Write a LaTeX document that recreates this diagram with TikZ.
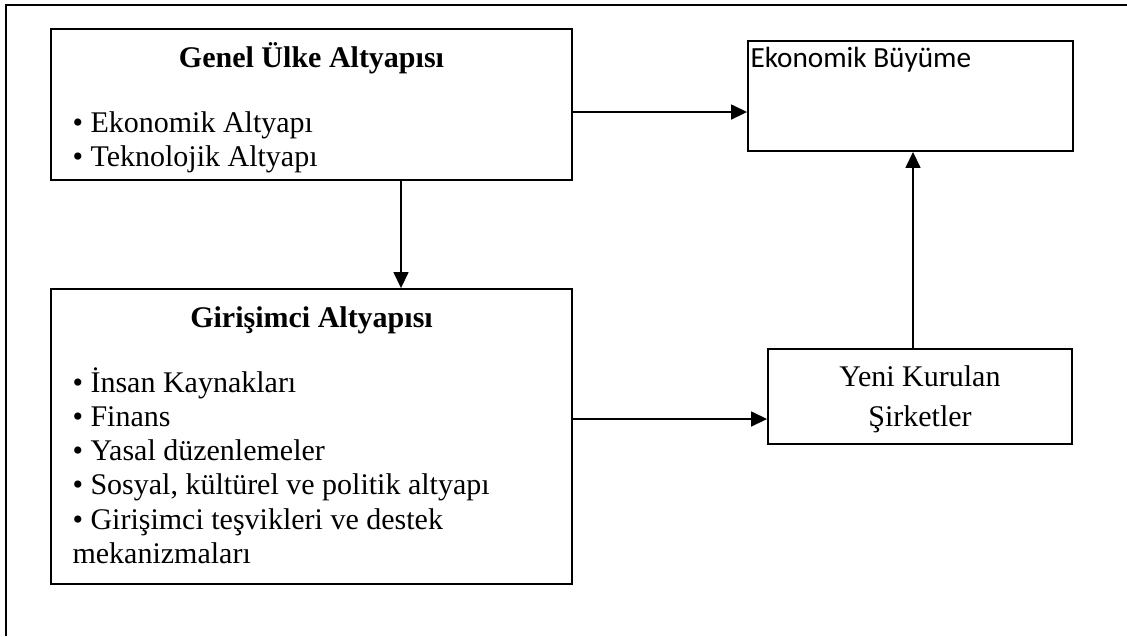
\documentclass[tikz,border=0pt]{standalone}
\usepackage{fontspec}
\setmainfont{Liberation Serif}
\newfontfamily\calibrifont{Carlito}
\usetikzlibrary{arrows.meta,positioning}

\begin{document}
\begin{tikzpicture}[x=0.4pt,y=-0.4pt,font=\fontsize{12}{14}\selectfont,
  box/.style={draw,line width=0.75pt,inner sep=0pt},
  flow/.style={-{Triangle[length=6.4pt,width=6pt]},line width=0.6pt},
  head/.style={anchor=base,inner sep=0pt,font=\fontsize{12}{14}\selectfont\bfseries},
  item/.style={anchor=base west,inner sep=0pt}]
  \useasboundingbox (0,0) rectangle (1127,636);
  \draw[line width=0.75pt] (1127,5) -- (6,5) -- (6,636);

  % boxes
  \node[box,minimum width=208.4pt,minimum height=60.4pt] (genel) at (311.5,104.5) {};
  \node[box,minimum width=208.4pt,minimum height=118pt] (gir) at (311.5,436.5) {};
  \node[box,minimum width=130pt,minimum height=44pt] (eko) at (910.5,96) {};
  \node[box,minimum width=121.6pt,minimum height=38pt] (yeni) at (920,396.5) {};

  % texts
  \node[head] (genelT) at ([yshift=-15.6pt]genel.north) {Genel Ülke Altyapısı};
  \node[head] (girT) at ([yshift=-15.6pt]gir.north) {Girişimci Altyapısı};
  \foreach \txt [count=\i from 0] in {• Ekonomik Altyapı,• Teknolojik Altyapı}
    \node[item] (genel-\i) at ([xshift=8.8pt,yshift={-41.6pt-\i*13.7pt}]genel.north west) {\txt};
  \foreach \txt [count=\i from 0] in {• İnsan Kaynakları,• Finans,• Yasal düzenlemeler,
    {• Sosyal, kültürel ve politik altyapı},• Girişimci teşvikleri ve destek,mekanizmaları}
    \node[item] (gir-\i) at ([xshift=8.8pt,yshift={-41.6pt-\i*13.7pt}]gir.north west) {\txt};
  \node[item,font=\calibrifont\fontsize{11.7}{14}\selectfont] (ekoT)
    at ([xshift=1.2pt,yshift=-10.8pt]eko.north west) {Ekonomik Büyüme};
  \node[head,font=\fontsize{12}{14}\selectfont] (yeniA) at ([yshift=-15.2pt]yeni.north) {Yeni Kurulan};
  \node[head,font=\fontsize{12}{14}\selectfont] (yeniB) at ([yshift=-31.2pt]yeni.north) {Şirketler};

  % arrows
  \draw[flow] ([yshift=-3pt]genel.east) -- ([yshift=-3pt]genel.east -| eko.west);
  \draw[flow] ([xshift=35.8pt]genel.south) -- ([xshift=35.8pt]genel.south |- gir.north);
  \draw[flow] ([yshift=7pt]gir.east) -- ([yshift=7pt]gir.east -| yeni.west);
  \draw[flow] ([xshift=-2.8pt]yeni.north) -- ([xshift=-2.8pt]yeni.north |- eko.south);
\end{tikzpicture}
\end{document}
